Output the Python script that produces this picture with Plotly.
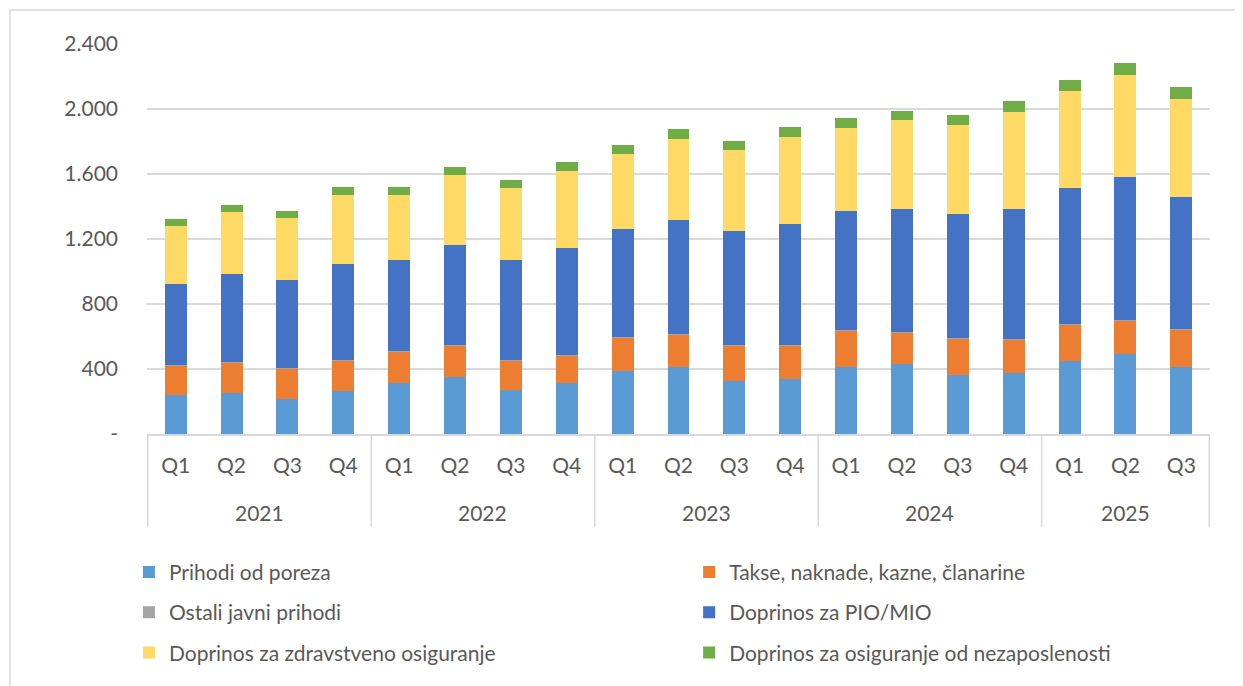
import plotly.graph_objects as go

years = ["2021"] * 4 + ["2022"] * 4 + ["2023"] * 4 + ["2024"] * 4 + ["2025"] * 3
quarters = ["Q1", "Q2", "Q3", "Q4"] * 4 + ["Q1", "Q2", "Q3"]
year_labels = ["2021", "2022", "2023", "2024", "2025"]

porez = [240, 254, 217, 263, 314, 351, 271, 312, 388, 410, 328, 337, 410, 433, 361, 377, 451, 490, 410]
takse = [180, 185, 185, 188, 195, 195, 184, 172, 207, 205, 214, 209, 228, 193, 226, 206, 224, 210, 236]
ostali = [3, 3, 3, 3, 3, 3, 3, 3, 3, 3, 3, 3, 3, 3, 3, 3, 3, 3, 3]
pio = [500, 541, 545, 590, 561, 614, 613, 660, 662, 701, 704, 743, 731, 758, 766, 801, 834, 879, 809]
zdrav = [359, 385, 379, 425, 400, 429, 441, 473, 461, 498, 497, 538, 513, 543, 544, 595, 597, 627, 602]
nezap = [41, 43, 43, 49, 47, 51, 51, 54, 57, 62, 57, 59, 62, 60, 63, 67, 69, 74, 73]

series = [
    ("Prihodi od poreza", porez, "#5B9BD5"),
    ("Takse, naknade, kazne, članarine", takse, "#ED7D31"),
    ("Ostali javni prihodi", ostali, "#A5A5A5"),
    ("Doprinos za PIO/MIO", pio, "#4472C4"),
    ("Doprinos za zdravstveno osiguranje", zdrav, "#FFD966"),
    ("Doprinos za osiguranje od nezaposlenosti", nezap, "#70AD47"),
]

y_tickvals = [0, 400, 800, 1200, 1600, 2000, 2400]
y_ticktext = ["-", "400", "800", "1.200", "1.600", "2.000", "2.400"]

FONT = "Lato"
FS = 21
TXT = "#595959"
GRID = "#D9D9D9"

cats = [f"{y} {q}" for y, q in zip(years, quarters)]

fig = go.Figure()
for i, (name, vals, color) in enumerate(series):
    fig.add_trace(go.Bar(
        x=cats, y=vals, name=name,
        legend="legend" if i % 2 == 0 else "legend2",
        legendgroup=f"g{i}",
        marker=dict(color=color, line=dict(width=0)),
    ))

leg_common = dict(
    orientation="v", traceorder="grouped", yanchor="top", xanchor="left",
    font=dict(family=FONT, size=FS, color=TXT), itemwidth=30,
    tracegroupgap=10, bgcolor="rgba(0,0,0,0)",
)

fig.update_layout(
    barmode="stack",
    bargap=0.607,
    width=1243, height=686,
    margin=dict(l=139, r=41, t=36, b=260),
    paper_bgcolor="white", plot_bgcolor="white",
    font=dict(family=FONT, size=FS, color=TXT),
    showlegend=True,
    legend=dict(x=-0.017, y=-0.302, **leg_common),
    legend2=dict(x=0.510, y=-0.302, **leg_common),
)
fig.update_yaxes(
    range=[0, 2400], tickvals=y_tickvals, ticktext=y_ticktext,
    showgrid=True, gridcolor=GRID, gridwidth=1.5,
    zeroline=False, showline=False, ticks="",
    ticklabelstandoff=28,
    tickfont=dict(family=FONT, size=FS, color=TXT),
)
fig.update_xaxes(
    type="category", categoryorder="array", categoryarray=cats,
    tickvals=cats, ticktext=quarters,
    showline=True, linecolor=GRID, linewidth=1.5,
    showgrid=False, ticks="", tickangle=0,
    ticklabelstandoff=12,
    tickfont=dict(family=FONT, size=FS, color=TXT),
)

# year group labels and dividers
group_start = 0
bounds = [-0.5]
for yl in year_labels:
    n = years.count(yl)
    center = group_start + (n - 1) / 2
    fig.add_annotation(x=center, xref="x", y=-0.2, yref="paper", text=yl,
                       showarrow=False, yanchor="middle",
                       font=dict(family=FONT, size=FS, color=TXT))
    group_start += n
    bounds.append(group_start - 0.5)
for b in bounds:
    fig.add_shape(type="line", xref="x", yref="paper", x0=b, x1=b, y0=0, y1=-0.238,
                  line=dict(color=GRID, width=1.5))

# chart area frame
fig.add_shape(type="rect", xref="paper", yref="paper",
              x0=-0.1289, x1=1.06, y0=-0.75, y1=1.087,
              line=dict(color=GRID, width=1.5), fillcolor="rgba(0,0,0,0)", layer="below")

fig.write_html("out.html")
